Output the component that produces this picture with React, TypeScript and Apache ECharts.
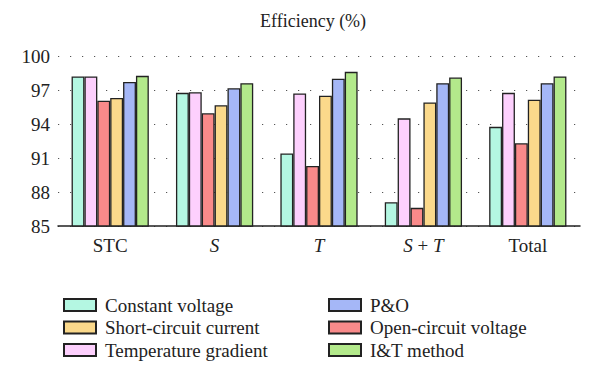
import React, { useEffect, useRef } from "react";
import * as echarts from "echarts";

const categories = ["STC", "S", "T", "S + T", "Total"];
const categoryLabels = ["STC", "{i|S}", "{i|T}", "{i|S}{n| + }{i|T}", "Total"];
const yTicks = [85, 88, 91, 94, 97, 100];

const constantVoltage = [98.2, 96.75, 91.4, 87.1, 93.75];
const temperatureGradient = [98.2, 96.8, 96.7, 94.5, 96.75];
const openCircuitVoltage = [96.05, 94.95, 90.3, 86.6, 92.3];
const shortCircuitCurrent = [96.3, 95.65, 96.5, 95.9, 96.15];
const pAndO = [97.7, 97.15, 98.0, 97.6, 97.6];
const itMethod = [98.25, 97.6, 98.6, 98.1, 98.2];

const seriesDefs = [
  { name: "Constant voltage", data: constantVoltage, color: "#b4f7e2" },
  { name: "Temperature gradient", data: temperatureGradient, color: "#fdd0fd" },
  { name: "Open-circuit voltage", data: openCircuitVoltage, color: "#f98a8a" },
  { name: "Short-circuit current", data: shortCircuitCurrent, color: "#fbd98b" },
  { name: "P&O", data: pAndO, color: "#a5b7f7" },
  { name: "I&T method", data: itMethod, color: "#b3e98b" },
];

const legendLeft = ["Constant voltage", "Short-circuit current", "Temperature gradient"];
const legendRight = ["P&O", "Open-circuit voltage", "I&T method"];

const FONT = "'Liberation Serif', 'DejaVu Serif', serif";

export default function App() {
  const ref = useRef<HTMLDivElement>(null);
  useEffect(() => {
    if (!ref.current) return;
    const chart = echarts.init(ref.current, undefined, { renderer: "svg" });
    const legendCommon = {
      orient: "vertical" as const,
      top: 290,
      itemWidth: 32,
      itemHeight: 12,
      itemGap: 2.5,
      textStyle: {
        fontFamily: FONT,
        fontSize: 19,
        lineHeight: 20,
        color: "#222",
        padding: [0, 0, 0, 4],
      },
      icon: "rect",
    };
    chart.setOption({
      animation: false,
      backgroundColor: "#ffffff",
      title: {
        text: "Efficiency (%)",
        left: 255,
        top: 7,
        textStyle: { fontFamily: FONT, fontSize: 18, fontWeight: "normal", color: "#222" },
      },
      legend: [
        { ...legendCommon, left: 58, data: legendLeft },
        { ...legendCommon, left: 323, data: legendRight },
      ],
      grid: { left: 58, right: 20, top: 56, bottom: 164, containLabel: false },
      xAxis: {
        type: "category",
        data: categories,
        axisLine: { show: true, lineStyle: { color: "#222", width: 1.5 } },
        axisTick: { show: false },
        axisLabel: {
          interval: 0,
          fontFamily: FONT,
          fontSize: 19,
          color: "#222",
          margin: 10,
          formatter: (_v: string, idx: number) => categoryLabels[idx],
          rich: {
            i: { fontFamily: FONT, fontSize: 19, fontStyle: "italic", color: "#222" },
            n: { fontFamily: FONT, fontSize: 19, color: "#222" },
          },
        },
      },
      yAxis: {
        type: "value",
        min: yTicks[0],
        max: yTicks[yTicks.length - 1],
        interval: 3,
        axisLine: { show: false },
        axisTick: { show: false },
        axisLabel: { fontFamily: FONT, fontSize: 19, color: "#222", margin: 8 },
        splitLine: {
          show: true,
          lineStyle: { color: "#555", width: 1.2, type: [1.2, 10.8] },
        },
      },
      series: seriesDefs.map((s) => ({
        name: s.name,
        type: "bar",
        data: s.data,
        barGap: "0%",
        barCategoryGap: "26%",
        itemStyle: { color: s.color, borderColor: "#222", borderWidth: 1.3 },
      })),
    });
    return () => chart.dispose();
  }, []);
  return (
    <div
      ref={ref}
      style={{ position: "absolute", left: 0, top: 0, width: 600, height: 390 }}
    />
  );
}
